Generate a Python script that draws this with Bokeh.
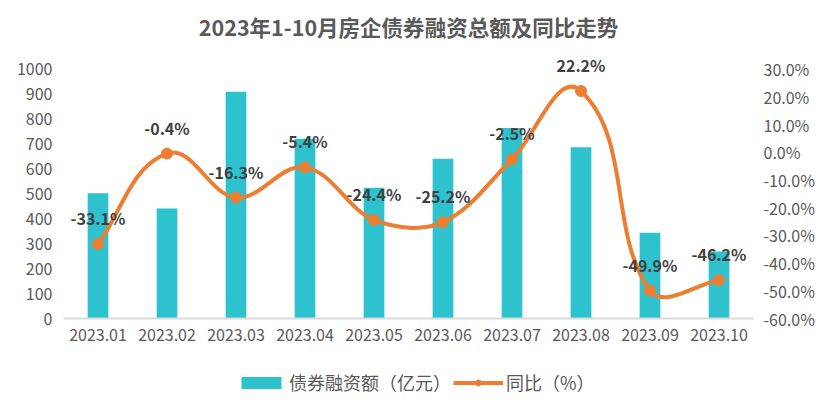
import math
from bokeh.plotting import figure
from bokeh.layouts import column
from bokeh.models import (ColumnDataSource, Range1d, LinearAxis, FixedTicker,
                          PrintfTickFormatter, LabelSet, Legend, LegendItem)
from bokeh.core.properties import value
from bokeh.embed import file_html
from bokeh.resources import INLINE

# ---- data ----
months = ["2023.01", "2023.02", "2023.03", "2023.04", "2023.05",
          "2023.06", "2023.07", "2023.08", "2023.09", "2023.10"]
amounts = [503, 442, 910, 722, 525, 641, 765, 688, 344, 269]
yoy = [-33.1, -0.4, -16.3, -5.4, -24.4, -25.2, -2.5, 22.2, -49.9, -46.2]
left_ticks = [0, 100, 200, 300, 400, 500, 600, 700, 800, 900, 1000]
right_ticks = [-60, -50, -40, -30, -20, -10, 0, 10, 20, 30]
legend_labels = ["债券融资额（亿元）", "同比（%）"]

FONT = "Noto Sans CJK SC"
BAR_C = "#2EC1CE"
LINE_C = "#ED7D31"
TXT_C = "#595959"

FRAME_W = 690
FRAME_H = 269
L_MAX = 1080.0                      # headroom above the 1000 tick for the top label
R_MIN = -60.0
R_MAX = R_MIN + 90.0 * L_MAX / 1000.0

xs = list(range(1, len(months) + 1))
labels = [f"{v:.1f}%" for v in yoy]
src = ColumnDataSource(dict(x=xs, amt=amounts, yoy=yoy, lab=labels))

# smooth-line rendering: cubic bezier control points (Excel-like smoothing),
# computed in screen proportions so that tangents scale with segment length
n = len(xs)
sx = FRAME_W / (n * 1.0)
sy = FRAME_H / (R_MAX - R_MIN)
P = [(xs[i] * sx, yoy[i] * sy) for i in range(n)]
def unit_tangent(i):
    a = P[max(0, i - 1)]
    b = P[min(n - 1, i + 1)]
    dx, dy = b[0] - a[0], b[1] - a[1]
    d = math.hypot(dx, dy)
    return dx / d, dy / d
K = 1.0 / 3.0
bz = dict(x0=[], y0=[], x1=[], y1=[], cx0=[], cy0=[], cx1=[], cy1=[])
for i in range(n - 1):
    a, b = P[i], P[i + 1]
    L = math.hypot(b[0] - a[0], b[1] - a[1])
    ua, ub = unit_tangent(i), unit_tangent(i + 1)
    c0 = (a[0] + ua[0] * L * K, a[1] + ua[1] * L * K)
    c1 = (b[0] - ub[0] * L * K, b[1] - ub[1] * L * K)
    bz["x0"].append(xs[i]); bz["y0"].append(yoy[i])
    bz["x1"].append(xs[i + 1]); bz["y1"].append(yoy[i + 1])
    bz["cx0"].append(c0[0] / sx); bz["cy0"].append(c0[1] / sy)
    bz["cx1"].append(c1[0] / sx); bz["cy1"].append(c1[1] / sy)
bsrc = ColumnDataSource(bz)

p = figure(frame_width=FRAME_W, frame_height=FRAME_H, output_backend="svg",
           toolbar_location=None,
           x_range=Range1d(0.5, n + 0.5), y_range=Range1d(0, L_MAX),
           min_border_left=63, min_border_right=78, min_border_top=49,
           min_border_bottom=40)
p.extra_y_ranges = {"yoy": Range1d(R_MIN, R_MAX)}

p.title.text = "2023年1-10月房企债券融资总额及同比走势"
p.title.align = "center"
p.title.offset = 7
p.title.text_font = FONT
p.title.text_font_size = "21.5px"
p.title.text_font_style = "bold"
p.title.text_color = TXT_C
p.title.standoff = 15

p.grid.visible = False
p.outline_line_color = None

p.vbar(x="x", top="amt", width=0.3, source=src, fill_color=BAR_C, line_color=None)
p.bezier(x0="x0", y0="y0", x1="x1", y1="y1", cx0="cx0", cy0="cy0",
         cx1="cx1", cy1="cy1", source=bsrc, line_color=LINE_C, line_width=4,
         y_range_name="yoy")
p.scatter(x="x", y="yoy", source=src, size=11, fill_color=LINE_C,
          line_color=LINE_C, y_range_name="yoy")

p.add_layout(LabelSet(x="x", y="yoy", text="lab", source=src, y_range_name="yoy",
                      y_offset=26, text_align="center", text_baseline="middle",
                      text_font=value(FONT), text_font_size="16px",
                      text_font_style="bold", text_color="#404040"))

def style_axis(ax, standoff):
    ax.major_tick_line_color = None
    ax.minor_tick_line_color = None
    ax.major_tick_out = 0
    ax.major_tick_in = 0
    ax.minor_tick_out = 0
    ax.minor_tick_in = 0
    ax.major_label_text_font = FONT
    ax.major_label_text_font_size = "16px"
    ax.major_label_text_color = TXT_C
    ax.major_label_standoff = standoff

xa = p.xaxis[0]
xa.ticker = FixedTicker(ticks=xs)
xa.major_label_overrides = {x: m for x, m in zip(xs, months)}
xa.axis_line_color = "#D9D9D9"
xa.axis_line_width = 2
style_axis(xa, 10)

ya = p.yaxis[0]
ya.ticker = FixedTicker(ticks=left_ticks)
ya.axis_line_color = None
style_axis(ya, 11)

ra = LinearAxis(y_range_name="yoy", ticker=FixedTicker(ticks=right_ticks),
                formatter=PrintfTickFormatter(format="%.1f%%"))
ra.axis_line_color = None
style_axis(ra, 10)
p.add_layout(ra, "right")

# ---- legend strip below the chart (its sample renderers are hidden; only swatches show) ----
lg = figure(width=831, height=54, output_backend="svg", toolbar_location=None,
            x_range=Range1d(0, 1), y_range=Range1d(0, 1),
            x_axis_location=None, y_axis_location=None, min_border=0)
lg.grid.visible = False
lg.outline_line_color = None
lbar = lg.vbar(x="x", top="amt", width=0.3, source=src, fill_color=BAR_C,
               line_color=None, visible=False)
lline = lg.line(x="x", y="yoy", source=src, line_color=LINE_C, line_width=4,
                visible=False)
ldot = lg.scatter(x="x", y="yoy", source=src, size=11, fill_color=LINE_C,
                  line_color=LINE_C, visible=False)
legend = Legend(items=[LegendItem(label=legend_labels[0], renderers=[lbar]),
                       LegendItem(label=legend_labels[1], renderers=[lline, ldot])],
                orientation="horizontal", location=(173, 17),
                glyph_width=50, glyph_height=15, label_text_font=FONT,
                label_text_font_size="18px", label_text_color=TXT_C,
                border_line_color=None, background_fill_alpha=0,
                inactive_fill_alpha=0,
                spacing=2, label_standoff=3, margin=0, padding=4)
lg.add_layout(legend, "center")

layout = column(p, lg, spacing=0)
open("out.html", "w").write(file_html(layout, INLINE))
